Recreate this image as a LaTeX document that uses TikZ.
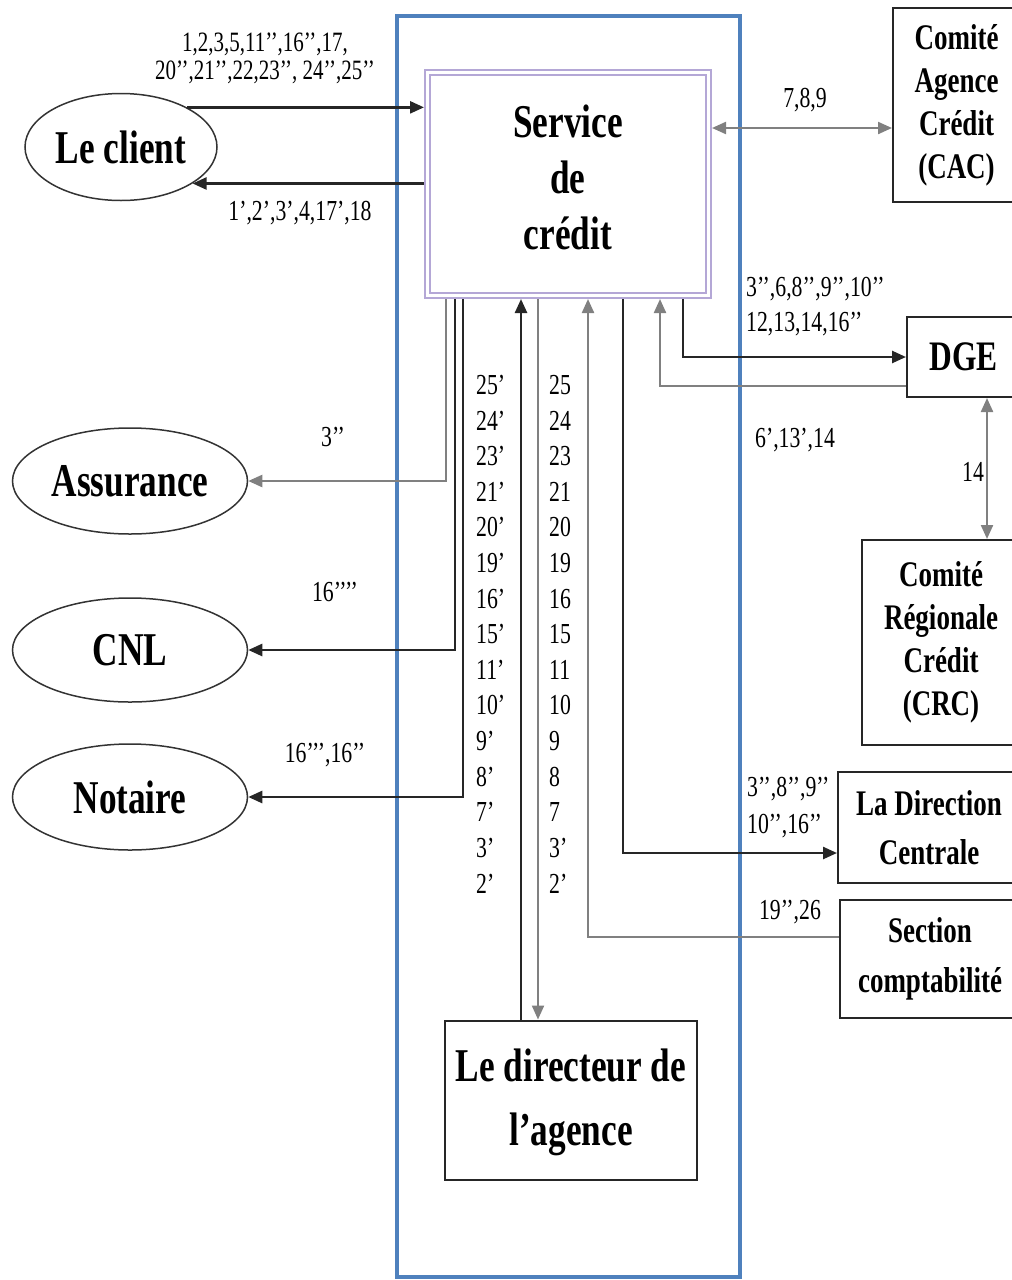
\documentclass[tikz,border=0pt]{standalone}
\usepackage{fontspec}
\setmainfont{Liberation Serif}[FakeStretch=0.75]
\usetikzlibrary{shapes,arrows.meta,positioning,calc}
\definecolor{agblue}{HTML}{4F81BD}
\definecolor{lav}{HTML}{B4A7D6}
\definecolor{lgray}{HTML}{808080}

\begin{document}
\begin{tikzpicture}[x=1pt, y=-1pt,
  actor/.style={ellipse, draw=black!80, line width=1.5pt, inner sep=0pt,
    font=\bfseries\fontsize{47}{56}\selectfont},
  unit/.style={rectangle, draw=black!85, line width=2pt, align=center, inner sep=0pt,
    font=\bfseries\fontsize{36}{43}\selectfont},
  lab/.style={inner sep=0pt, font=\fontsize{29}{35.6}\selectfont},
  arr/.style={-{Triangle[length=14pt, width=12pt]}, line width=2.5pt, black!85},
  garr/.style={-{Triangle[length=14pt, width=12pt]}, line width=2.2pt, lgray},
  biarr/.style={{Triangle[length=14pt, width=12pt]}-{Triangle[length=14pt, width=12pt]}, line width=2.2pt, lgray}
]
  \useasboundingbox (0,0) rectangle (1012,1280);

  % agence
  \node[draw=agblue, line width=4pt, minimum width=343pt, minimum height=1261pt] (agence) at (568.5,646.5) {};
  \node[draw=lav, double, line width=2pt, double distance=3pt, outer sep=3.5pt, align=center, text depth=14pt,
    minimum width=281pt, minimum height=223pt, font=\bfseries\fontsize{47}{56}\selectfont] (svc) at (568,184) {Service\\de\\crédit};
  \node[unit, minimum width=252pt, minimum height=159pt, text depth=6pt, font=\bfseries\fontsize{47}{64}\selectfont] (dir) at (571,1100) {Le directeur de\\l’agence};

  % partenaires
  \node[actor, minimum width=192pt, minimum height=107pt] (client) at (121,147) {Le client};
  \node[actor, minimum width=235pt, minimum height=106pt] (assur) at (130,481) {Assurance};
  \node[actor, minimum width=235pt, minimum height=104pt] (cnl) at (130,650) {CNL};
  \node[actor, minimum width=235pt, minimum height=106pt] (notaire) at (130,797) {Notaire};

  \node[unit, minimum width=127pt, minimum height=194pt] (cac) at (956.5,105) {Comité\\Agence\\Crédit\\(CAC)};
  \node[unit, minimum width=113pt, minimum height=80pt, font=\bfseries\fontsize{42}{50}\selectfont] (dge) at (963.5,357) {DGE};
  \node[unit, minimum width=158pt, minimum height=205pt] (crc) at (941,642.5) {Comité\\Régionale\\Crédit\\(CRC)};
  \node[unit, minimum width=182pt, minimum height=111pt, font=\bfseries\fontsize{36}{49}\selectfont] (dc) at (929,827.5) {La Direction\\Centrale};
  \node[unit, minimum width=180pt, minimum height=118pt, font=\bfseries\fontsize{36}{50}\selectfont] (sec) at (930,959) {Section\\comptabilité};

  % colonnes des liaisons
  \foreach \n/\x in {as/446, cn/455, no/463, up/521, dn/538, sc/588, dc/623, dg/660, dd/683, cr/987} {
    \coordinate (x\n) at (\x,0);
  }
  \coordinate (ycac) at (0,128);

  \draw[arr] (client.31) -- (client.31 -| svc.west);
  \draw[arr] (client.-27 -| svc.west) -- (client.-27);
  \draw[biarr] (svc.east |- ycac) -- (cac.west |- ycac);

  \draw[garr] (xas |- svc.south) |- (assur.east);
  \draw[arr] (xcn |- svc.south) |- (cnl.east);
  \draw[arr] (xno |- svc.south) |- (notaire.east);

  \draw[arr] (xup |- dir.north) -- (xup |- svc.south);
  \draw[garr] (xdn |- svc.south) -- (xdn |- dir.north);

  \draw[garr] ([yshift=22pt]sec.west) -| (xsc |- svc.south);
  \draw[arr] (xdc |- svc.south) |- ([yshift=-25.5pt]dc.west);
  \draw[arr] (xdd |- svc.south) |- (dge.west);
  \draw[garr] ([yshift=-29pt]dge.west) -| (xdg |- svc.south);
  \draw[biarr] (xcr |- dge.south) -- (xcr |- crc.north);

  % numeros des flux
  \node[lab, align=center, font=\fontsize{28}{28}\selectfont] (lcin) at (265,58) {1,2,3,5,11’’,16’’,17,\\20’’,21’’,22,23’’, 24’’,25’’};
  \node[lab] (lcout) at (300,213) {1’,2’,3’,4,17’,18};
  \node[lab] (lcac) at (805,100) {7,8,9};
  \node[lab, anchor=west, align=left, font=\fontsize{29}{35}\selectfont] (ldge) at (746,307) {3’’,6,8’’,9’’,10’’\\12,13,14,16’’};
  \node[lab] (lback) at (795,440) {6’,13’,14};
  \node[lab] (lcrc) at (973,472) {14};
  \node[lab, anchor=west, align=left, font=\fontsize{29}{37}\selectfont] (ldc) at (747,808) {3’’,8’’,9’’\\10’’,16’’};
  \node[lab] (lsec) at (790,912) {19’’,26};
  \node[lab] (las) at (333,437) {3’’};
  \node[lab] (lcnl) at (335,592) {16’’’’};
  \node[lab] (lnot) at (325,755) {16’’’,16’’};

  \foreach \a/\b [count=\k] in {25’/25,24’/24,23’/23,21’/21,20’/20,19’/19,16’/16,15’/15,11’/11,10’/10,9’/9,8’/8,7’/7,3’/3’,2’/2’} {
    \node[lab, anchor=west] (pa\k) at (476,349.4+35.6*\k) {\a};
    \node[lab, anchor=west] (pb\k) at (549,349.4+35.6*\k) {\b};
  }
\end{tikzpicture}
\end{document}
